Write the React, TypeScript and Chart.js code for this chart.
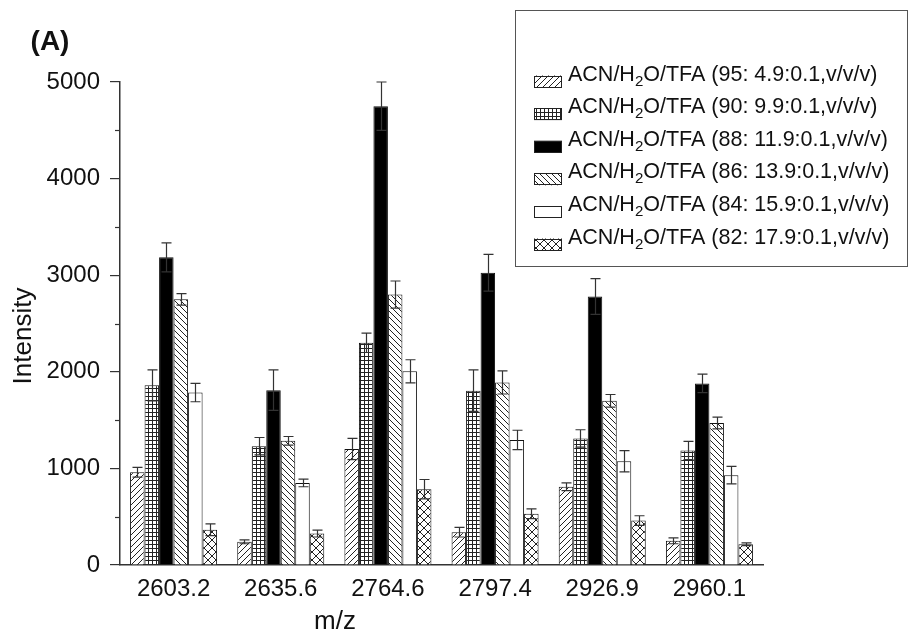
import React, { useEffect, useRef } from "react";
import { Chart, registerables } from "chart.js";

Chart.register(...registerables);

const categories = ["2603.2", "2635.6", "2764.6", "2797.4", "2926.9", "2960.1"];

const seriesNames = [
  ["ACN/H", "2", "O/TFA (95: 4.9:0.1,v/v/v)"],
  ["ACN/H", "2", "O/TFA (90: 9.9:0.1,v/v/v)"],
  ["ACN/H", "2", "O/TFA (88: 11.9:0.1,v/v/v)"],
  ["ACN/H", "2", "O/TFA (86: 13.9:0.1,v/v/v)"],
  ["ACN/H", "2", "O/TFA (84: 15.9:0.1,v/v/v)"],
  ["ACN/H", "2", "O/TFA (82: 17.9:0.1,v/v/v)"],
];

const s95 = [960, 240, 1200, 340, 810, 250];
const s90 = [1860, 1230, 2300, 1805, 1310, 1185];
const s88 = [3185, 1810, 4750, 3025, 2780, 1880];
const s86 = [2750, 1285, 2800, 1890, 1700, 1470];
const s84 = [1785, 850, 2005, 1295, 1075, 930];
const s82 = [365, 325, 785, 530, 460, 215];

const e95 = [50, 20, 110, 50, 40, 30];
const e90 = [160, 90, 100, 215, 90, 95];
const e88 = [150, 210, 250, 190, 185, 95];
const e86 = [60, 45, 140, 120, 65, 60];
const e84 = [95, 40, 120, 100, 110, 90];
const e82 = [60, 35, 100, 50, 50, 15];

const yTicks = [0, 1000, 2000, 3000, 4000, 5000];
const yMinorTicks = [500, 1500, 2500, 3500, 4500];

const FONT = "'Liberation Sans', Arial, Helvetica, sans-serif";

function makePattern(kind: string): CanvasPattern | string {
  if (kind === "solid") return "#000000";
  if (kind === "white") return "#ffffff";
  const c = document.createElement("canvas");
  let s = 6;
  if (kind === "grid") s = 4;
  if (kind === "cross") s = 8;
  c.width = s;
  c.height = s;
  const g = c.getContext("2d")!;
  g.fillStyle = "#ffffff";
  g.fillRect(0, 0, s, s);
  g.strokeStyle = "#222222";
  g.lineWidth = 1;
  const fwd = () => {
    g.beginPath();
    g.moveTo(-1, s + 1);
    g.lineTo(s + 1, -1);
    g.moveTo(-1, 1);
    g.lineTo(1, -1);
    g.moveTo(s - 1, s + 1);
    g.lineTo(s + 1, s - 1);
    g.stroke();
  };
  const back = () => {
    g.beginPath();
    g.moveTo(-1, -1);
    g.lineTo(s + 1, s + 1);
    g.moveTo(s - 1, -1);
    g.lineTo(s + 1, 1);
    g.moveTo(-1, s - 1);
    g.lineTo(1, s + 1);
    g.stroke();
  };
  if (kind === "fwd") fwd();
  if (kind === "back") back();
  if (kind === "cross") {
    fwd();
    back();
  }
  if (kind === "grid") {
    g.beginPath();
    g.moveTo(0, 0.5);
    g.lineTo(s, 0.5);
    g.moveTo(0.5, 0);
    g.lineTo(0.5, s);
    g.stroke();
  }
  return g.createPattern(c, "repeat")!;
}

export default function App() {
  const ref = useRef<HTMLCanvasElement | null>(null);

  useEffect(() => {
    if (!ref.current) return;
    const kinds = ["fwd", "grid", "solid", "back", "white", "cross"];
    const fills = kinds.map(makePattern);
    const values = [s95, s90, s88, s86, s84, s82];
    const errors = [e95, e90, e88, e86, e84, e82];

    const errorBars = {
      id: "errorBars",
      afterDatasetsDraw(chart: any) {
        const ctx = chart.ctx;
        const yScale = chart.scales.y;
        ctx.save();
        ctx.strokeStyle = "#333333";
        ctx.lineWidth = 1.2;
        chart.data.datasets.forEach((ds: any, di: number) => {
          const meta = chart.getDatasetMeta(di);
          meta.data.forEach((el: any, i: number) => {
            const v = values[di][i];
            const e = errors[di][i];
            const yt = yScale.getPixelForValue(v + e);
            const yb = yScale.getPixelForValue(v - e);
            const x = Math.round(el.x) + 0.5;
            const hw = 5;
            ctx.beginPath();
            ctx.moveTo(x, yt);
            ctx.lineTo(x, yb);
            ctx.moveTo(x - hw, yt);
            ctx.lineTo(x + hw, yt);
            ctx.moveTo(x - hw, yb);
            ctx.lineTo(x + hw, yb);
            ctx.stroke();
          });
        });
        ctx.restore();
      },
    };

    const decorations = {
      id: "decorations",
      afterDraw(chart: any) {
        const ctx = chart.ctx;
        const yScale = chart.scales.y;
        const area = chart.chartArea;
        ctx.save();
        // minor ticks
        ctx.strokeStyle = "#333333";
        ctx.lineWidth = 1.2;
        yMinorTicks.forEach((t) => {
          const y = Math.round(yScale.getPixelForValue(t)) + 0.5;
          ctx.beginPath();
          ctx.moveTo(area.left - 5, y);
          ctx.lineTo(area.left, y);
          ctx.stroke();
        });
        // panel label
        ctx.fillStyle = "#111111";
        ctx.font = `bold 28px ${FONT}`;
        ctx.textAlign = "center";
        ctx.textBaseline = "middle";
        ctx.fillText("(A)", 50, 42);
        // axis titles
        ctx.font = `26px ${FONT}`;
        ctx.fillText("m/z", 335, 622);
        ctx.save();
        ctx.translate(24, 336);
        ctx.rotate(-Math.PI / 2);
        ctx.fillText("Intensity", 0, 0);
        ctx.restore();
        // legend
        ctx.strokeStyle = "#555555";
        ctx.lineWidth = 1;
        ctx.strokeRect(515.5, 10.5, 392, 256);
        const fs = 21.5;
        seriesNames.forEach((parts, i) => {
          const base = 80.5 + i * 32.6;
          ctx.fillStyle = fills[i] as any;
          ctx.fillRect(534, base - 5, 28, 12);
          ctx.strokeStyle = "#222222";
          ctx.lineWidth = 1;
          ctx.strokeRect(534.5, Math.round(base - 5) + 0.5, 27, 11);
          ctx.fillStyle = "#111111";
          ctx.textAlign = "left";
          ctx.textBaseline = "alphabetic";
          let x = 568;
          ctx.font = `${fs}px ${FONT}`;
          ctx.fillText(parts[0], x, base);
          x += ctx.measureText(parts[0]).width;
          ctx.font = `${fs * 0.7}px ${FONT}`;
          ctx.fillText(parts[1], x, base + 5);
          x += ctx.measureText(parts[1]).width;
          ctx.font = `${fs}px ${FONT}`;
          ctx.fillText(parts[2], x, base);
        });
        ctx.restore();
      },
    };

    const chart = new Chart(ref.current, {
      type: "bar",
      data: {
        labels: categories,
        datasets: values.map((vals, i) => ({
          label: seriesNames[i].join(""),
          data: vals,
          backgroundColor: fills[i] as any,
          borderColor: "#111111",
          borderWidth: 1,
          borderSkipped: "start",
          categoryPercentage: 0.812,
          barPercentage: 1.0,
        })),
      },
      options: {
        animation: false,
        responsive: true,
        maintainAspectRatio: false,
        layout: { padding: { left: 0, top: 82, right: 146, bottom: 0 } },
        plugins: {
          legend: { display: false },
          title: { display: false },
          tooltip: { enabled: false },
        },
        scales: {
          x: {
            type: "category",
            grid: { display: false, drawTicks: false },
            border: { display: true, color: "#333333", width: 1.5 },
            ticks: {
              color: "#111111",
              font: { family: FONT, size: 24 },
              padding: 10,
              maxRotation: 0,
            },
            afterFit(scale: any) {
              scale.height = 70;
            },
          },
          y: {
            type: "linear",
            min: 0,
            max: 5000,
            afterBuildTicks(scale: any) {
              scale.ticks = yTicks.map((v) => ({ value: v }));
            },
            grid: {
              display: true,
              drawOnChartArea: false,
              drawTicks: true,
              tickLength: 10,
              color: "#333333",
              lineWidth: 1.2,
            },
            border: { display: true, color: "#333333", width: 1.5 },
            ticks: {
              color: "#111111",
              font: { family: FONT, size: 24 },
              padding: 10,
              callback: (v: any) => String(v),
            },
            afterFit(scale: any) {
              scale.width = 120;
            },
          },
        },
      },
      plugins: [errorBars, decorations],
    });
    return () => chart.destroy();
  }, []);

  return (
    <div style={{ position: "absolute", left: 0, top: 0, width: 909, height: 635, background: "#ffffff" }}>
      <canvas ref={ref} width={909} height={635} />
    </div>
  );
}
